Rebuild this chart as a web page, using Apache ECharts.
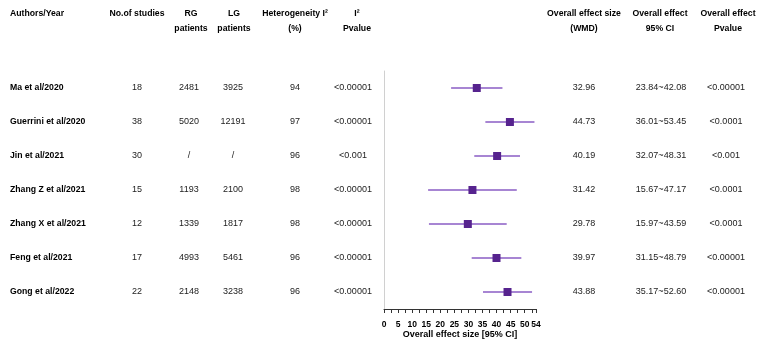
<!DOCTYPE html>
<html>
<head>
<meta charset="utf-8">
<script src="https://cdn.jsdelivr.net/npm/echarts@6/dist/echarts.min.js"></script>
<style>
  html, body { margin: 0; padding: 0; background: #fff; }
  #chart { width: 759px; height: 343px; }
</style>
</head>
<body>
<div id="chart"></div>
<script>
const authors = ["Ma et al/2020", "Guerrini et al/2020", "Jin et al/2021", "Zhang Z et al/2021", "Zhang X et al/2021", "Feng et al/2021", "Gong et al/2022"];
const studies = ["18", "38", "30", "15", "12", "17", "22"];
const rgPatients = ["2481", "5020", "/", "1193", "1339", "4993", "2148"];
const lgPatients = ["3925", "12191", "/", "2100", "1817", "5461", "3238"];
const heterogeneity = ["94", "97", "96", "98", "98", "96", "96"];
const i2Pvalue = ["<0.00001", "<0.00001", "<0.001", "<0.00001", "<0.00001", "<0.00001", "<0.00001"];
const wmd = [32.96, 44.73, 40.19, 31.42, 29.78, 39.97, 43.88];
const ciLow = [23.84, 36.01, 32.07, 15.67, 15.97, 31.15, 35.17];
const ciHigh = [42.08, 53.45, 48.31, 47.17, 43.59, 48.79, 52.60];
const ciText = ["23.84~42.08", "36.01~53.45", "32.07~48.31", "15.67~47.17", "15.97~43.59", "31.15~48.79", "35.17~52.60"];
const effectP = ["<0.00001", "<0.0001", "<0.001", "<0.0001", "<0.0001", "<0.00001", "<0.00001"];
const axisLabels = [0, 5, 10, 15, 20, 25, 30, 35, 40, 45, 50, 54];

const FONT = "Liberation Sans, Arial, sans-serif";
const chart = echarts.init(document.getElementById("chart"));

// text columns: [x, align, values, bold]
const columns = [
    [10, "left", authors, true],
    [137, "center", studies, false],
    [189, "center", rgPatients, false],
    [233, "center", lgPatients, false],
    [295, "center", heterogeneity, false],
    [353, "center", i2Pvalue, false],
    [584, "center", wmd.map(v => v.toFixed(2)), false],
    [661, "center", ciText, false],
    [726, "center", effectP, false]
];

// header text: [x, y, text, align]
const headers = [
    [10, 14, "Authors/Year", "left"],
    [137, 14, "No.of studies"],
    [191, 14, "RG"], [191, 29, "patients"],
    [234, 14, "LG"], [234, 29, "patients"],
    [295, 14, "Heterogeneity I\u00b2"], [295, 29, "(%)"],
    [357, 14, "I\u00b2"], [357, 29, "Pvalue"],
    [584, 14, "Overall effect size"], [584, 29, "(WMD)"],
    [660, 14, "Overall effect"], [660, 29, "95% CI"],
    [728, 14, "Overall effect"], [728, 29, "Pvalue"]
];

const option = {
    animation: false,
    backgroundColor: "#fff",
    grid: { left: 384, right: 223, top: 71, bottom: 34, containLabel: false, outerBoundsMode: "none" },
    xAxis: {
        type: "value",
        min: 0,
        max: 54,
        interval: 2.5,
        axisLine: { show: true, lineStyle: { color: "#333", width: 1 } },
        axisTick: { show: true, length: 4, lineStyle: { color: "#333" } },
        splitLine: { show: false },
        axisLabel: {
            margin: 11,
            color: "#000",
            fontFamily: FONT,
            fontWeight: "bold",
            fontSize: 8.5,
            hideOverlap: false,
            formatter: v => axisLabels.includes(v) ? String(v) : ""
        },
        name: "Overall effect size [95% CI]",
        nameLocation: "middle",
        nameGap: 21,
        nameMoveOverlap: false,
        nameTextStyle: { color: "#000", fontFamily: FONT, fontWeight: "bold", fontSize: 9 }
    },
    yAxis: {
        type: "category",
        inverse: true,
        data: authors,
        axisLine: { show: true, lineStyle: { color: "#d0d0d0", width: 1 } },
        axisTick: { show: false },
        axisLabel: { show: false },
        splitLine: { show: false }
    },
    graphic: headers.map(h => ({
        type: "text",
        x: h[0],
        y: h[1],
        style: {
            text: h[2],
            fill: "#000",
            font: "bold 8.7px " + FONT,
            textAlign: h[3] || "center",
            textVerticalAlign: "middle"
        }
    })),
    series: [
        {
            type: "custom",
            coordinateSystem: "cartesian2d",
            clip: false,
            silent: true,
            data: wmd.map((v, i) => [v, i, ciLow[i], ciHigh[i]]),
            encode: { x: [0, 2, 3], y: 1 },
            renderItem: function (params, api) {
                const row = api.value(1);
                const c = api.coord([api.value(0), row]);
                const lo = api.coord([api.value(2), row]);
                const hi = api.coord([api.value(3), row]);
                const s = 8;
                return {
                    type: "group",
                    children: [
                        {
                            type: "line",
                            shape: { x1: lo[0], y1: c[1], x2: hi[0], y2: c[1] },
                            style: { stroke: "#8a5cc4", lineWidth: 1.3 }
                        },
                        {
                            type: "rect",
                            shape: { x: c[0] - s / 2, y: c[1] - s / 2, width: s, height: s },
                            style: { fill: "#56238e" }
                        }
                    ]
                };
            }
        },
        {
            type: "custom",
            coordinateSystem: "cartesian2d",
            clip: false,
            silent: true,
            data: authors.map((a, i) => [0, i]),
            encode: { x: 0, y: 1 },
            renderItem: function (params, api) {
                const row = api.value(1);
                const y = api.coord([0, row])[1];
                return {
                    type: "group",
                    children: columns.map(col => ({
                        type: "text",
                        x: col[0],
                        y: y,
                        style: {
                            text: col[2][row],
                            fill: col[3] ? "#000" : "#222",
                            font: (col[3] ? "bold 8.7px " : "9px ") + FONT,
                            textAlign: col[1],
                            textVerticalAlign: "middle"
                        }
                    }))
                };
            }
        }
    ]
};

chart.setOption(option);
</script>
</body>
</html>
